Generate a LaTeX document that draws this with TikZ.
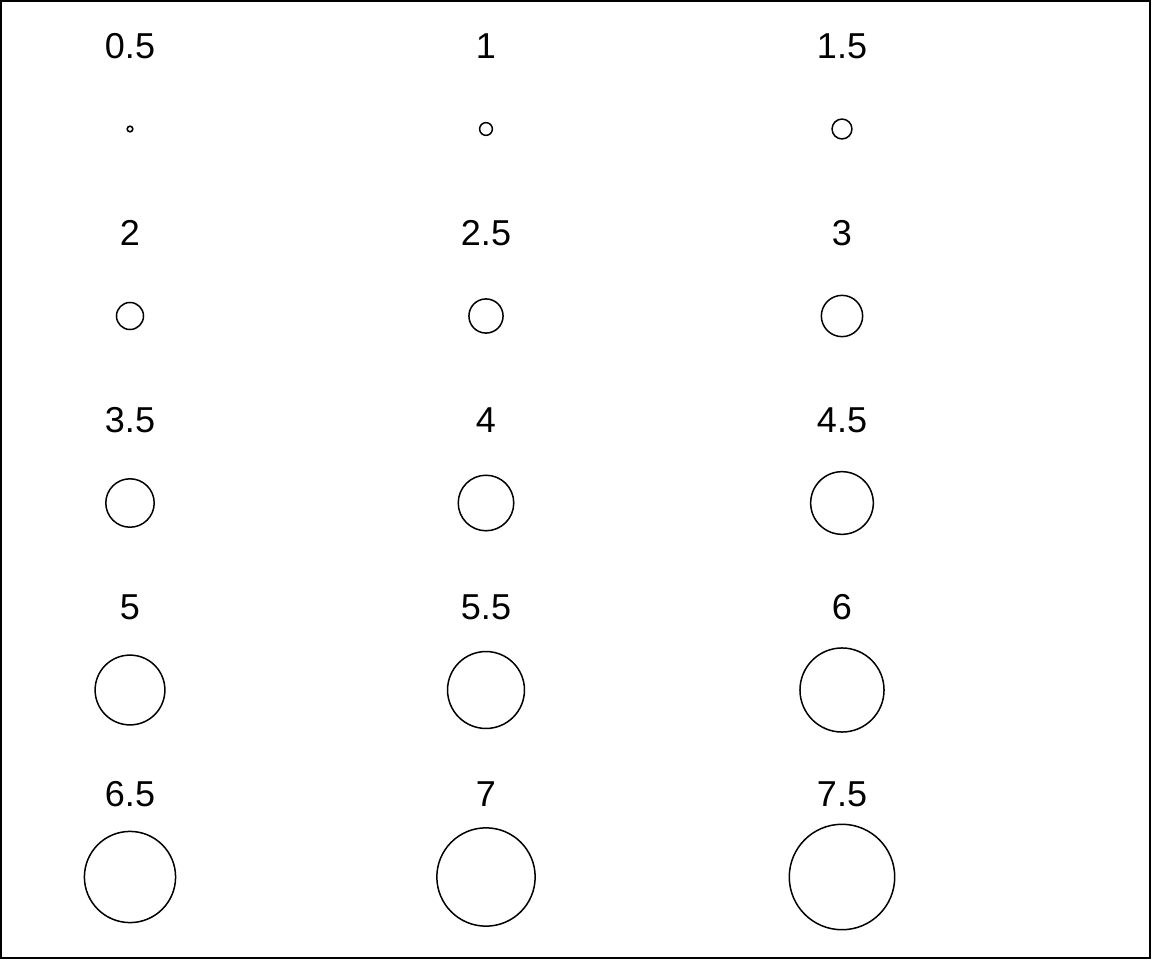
\documentclass[tikz,border=0pt]{standalone}
\usepackage{fontspec}
\setmainfont{Liberation Sans}
\begin{document}
\begin{tikzpicture}[x=1pt,y=-1pt,
  lab/.style={anchor=base,inner sep=0pt,font=\fontsize{36}{42}\selectfont},
  ring/.style={circle,draw=black,line width=1.5pt,inner sep=0pt}]
\useasboundingbox (0,0) rectangle (1152,960);
\draw[line width=1.6pt] (0.8,0.8) rectangle (1150.2,958.2);
\foreach \lab/\cex/\col/\row [count=\i] in {0.5/0.5/0/0,1/1/1/0,1.5/1.5/2/0,
  2/2/0/1,2.5/2.5/1/1,3/3/2/1,
  3.5/3.5/0/2,4/4/1/2,4.5/4.5/2/2,
  5/5/0/3,5.5/5.5/1/3,6/6/2/3,
  6.5/6.5/0/4,7/7/1/4,7.5/7.5/2/4}{
  \pgfmathsetmacro{\xx}{130+356*\col}
  \pgfmathsetmacro{\yl}{58.5+187*\row}
  \pgfmathsetmacro{\yc}{129+187*\row}
  \pgfmathsetmacro{\dd}{2*7.13*\cex-1.5}
  \node[lab] (t\i) at (\xx,\yl) {\lab};
  \node[ring,minimum size=\dd pt] (c\i) at (\xx,\yc) {};
}
\end{tikzpicture}
\end{document}
